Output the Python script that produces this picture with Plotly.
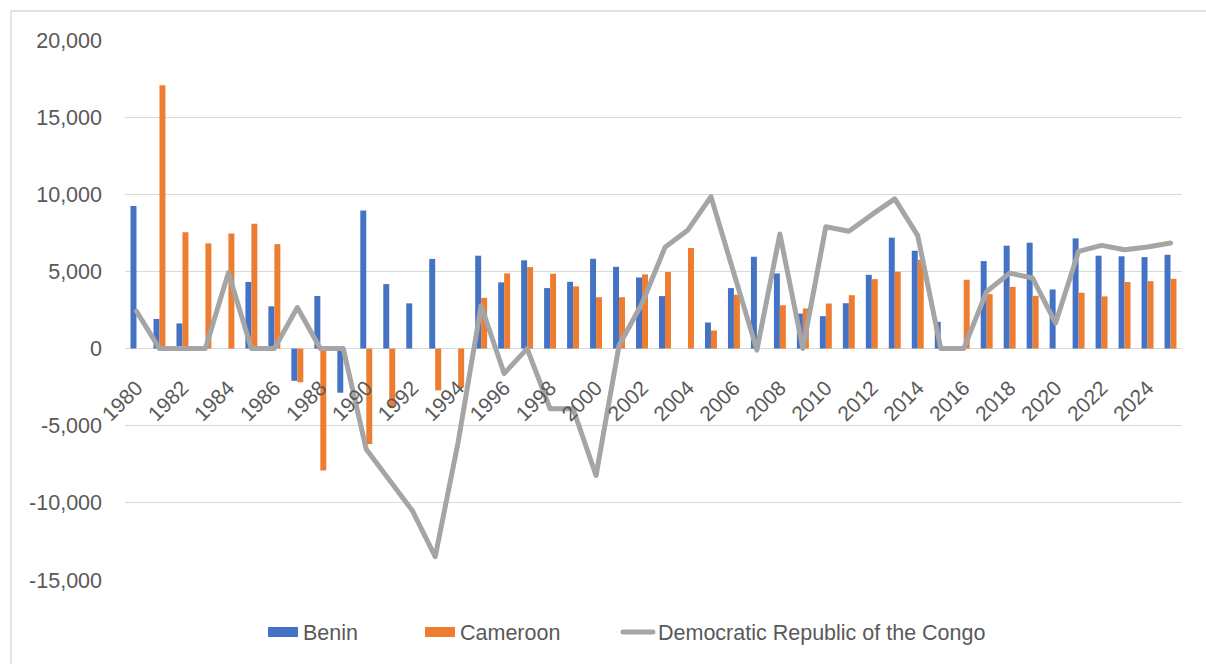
import plotly.graph_objects as go

years = list(range(1980, 2026))

benin = [9240, 1920, 1630, None, None, 4320, 2740, -2090, 3410, -2860,
         8950, 4180, 2930, 5810, None, 6020, 4290, 5720, 3920, 4330,
         5820, 5300, 4610, 3400, None, 1690, 3920, 5950, 4870, 2270,
         2100, 2940, 4780, 7190, 6340, 1730, None, 5670, 6670, 6860,
         3830, 7140, 6020, 5980, 5930, 6080]

cameroon = [None, 17060, 7540, 6820, 7460, 8090, 6770, -2180, -7900, None,
            -6190, -3790, None, -2710, -2520, 3290, 4870, 5280, 4850, 4030,
            3330, 3330, 4810, 4960, 6520, 1170, 3490, None, 2810, 2600,
            2920, 3460, 4500, 4980, 5760, None, 4460, 3530, 4000, 3420,
            None, 3620, 3380, 4310, 4370, 4520]

drc = [2420, 0, 0, 0, 4920, 0, 0, 2660, 0, 0,
       -6530, -8450, -10490, -13490, -6050, 2780, -1620, 0, -3900, -3900,
       -8230, 200, 2920, 6560, 7690, 9850, 4900, -100, 7430, 0,
       7900, 7600, 8680, 9700, 7320, 0, 0, 3700, 4890, 4570,
       1650, 6300, 6690, 6410, 6580, 6840]

y_ticks = [-15000, -10000, -5000, 0, 5000, 10000, 15000, 20000]
y_tick_text = ["-15,000", "-10,000", "-5,000", "0", "5,000", "10,000", "15,000", "20,000"]
x_ticks = list(range(1980, 2026, 2))

FONT = "Liberation Sans, Arial, sans-serif"
TXT = "#595959"
GRID = "#D9D9D9"
BLUE, ORANGE, GRAY = "#4472C4", "#ED7D31", "#A5A5A5"

W, H = 1206, 664
L, R, T, B = 125, 24, 40, 84
pw, ph = W - L - R, H - T - B

fig = go.Figure()
fig.add_trace(go.Bar(x=years, y=benin, name="Benin", marker_color=BLUE,
                     marker_line_width=0, showlegend=False))
fig.add_trace(go.Bar(x=years, y=cameroon, name="Cameroon", marker_color=ORANGE,
                     marker_line_width=0, showlegend=False))
fig.add_trace(go.Scatter(x=years, y=drc, name="Democratic Republic of the Congo",
                         mode="lines", line=dict(color=GRAY, width=5), legend="legend3"))
# legend-only entries for bar series (wide rectangles as in the reference)
fig.add_trace(go.Scatter(x=[None], y=[None], name="Benin", mode="lines",
                         line=dict(color=BLUE, width=10), legend="legend"))
fig.add_trace(go.Scatter(x=[None], y=[None], name="Cameroon", mode="lines",
                         line=dict(color=ORANGE, width=10), legend="legend2"))

ymin, ymax = -15000, 20000
zero_pos = (0 - ymin) / (ymax - ymin)

leg_y = (580 - 632) / ph
def leg(xpx):
    return dict(x=(xpx - L) / pw, xanchor="left", y=leg_y, yanchor="middle",
                orientation="h", font=dict(size=21.5, color=TXT, family=FONT),
                bgcolor="rgba(0,0,0,0)", itemwidth=30)

fig.update_layout(
    width=W, height=H,
    margin=dict(l=L, r=R, t=T, b=B),
    paper_bgcolor="white", plot_bgcolor="white",
    font=dict(family=FONT, color=TXT, size=21),
    barmode="group", bargap=0.48, bargroupgap=0,
    showlegend=True,
    legend=leg(263), legend2=leg(420), legend3=leg(618),
    xaxis=dict(range=[1979.5, 2025.5], tickvals=x_ticks, ticktext=[str(t) for t in x_ticks],
               tickangle=-45, showgrid=False, showline=False, zeroline=False,
               anchor="free", position=zero_pos, ticks="", ticklabelstandoff=22,
               tickfont=dict(size=21, color=TXT)),
    yaxis=dict(range=[ymin, ymax], tickvals=y_ticks, ticktext=y_tick_text,
               showgrid=True, gridcolor=GRID, gridwidth=1.3,
               zeroline=True, zerolinecolor=GRID, zerolinewidth=1.3,
               showline=False, ticks="", ticklabelstandoff=22,
               tickfont=dict(size=21.5, color=TXT)),
)

# outer chart border (bottom and right edges lie outside the page)
fig.add_shape(type="rect", xref="paper", yref="paper",
              x0=(11 - L) / pw, x1=(W + 5 - L) / pw,
              y0=(580 - (H + 10)) / ph, y1=(580 - 11) / ph,
              line=dict(color=GRID, width=1.3), fillcolor="rgba(0,0,0,0)", layer="below")

post = """
document.querySelectorAll('path.js-line').forEach(function(p){
  var s = (p.style.stroke || '').replace(/\\s/g, '');
  if (s === 'rgb(165,165,165)' || s === '#a5a5a5') {
    p.style.strokeLinejoin='round'; p.style.strokeLinecap='round';
  }
});
"""
fig.write_html("out.html", post_script=post)
